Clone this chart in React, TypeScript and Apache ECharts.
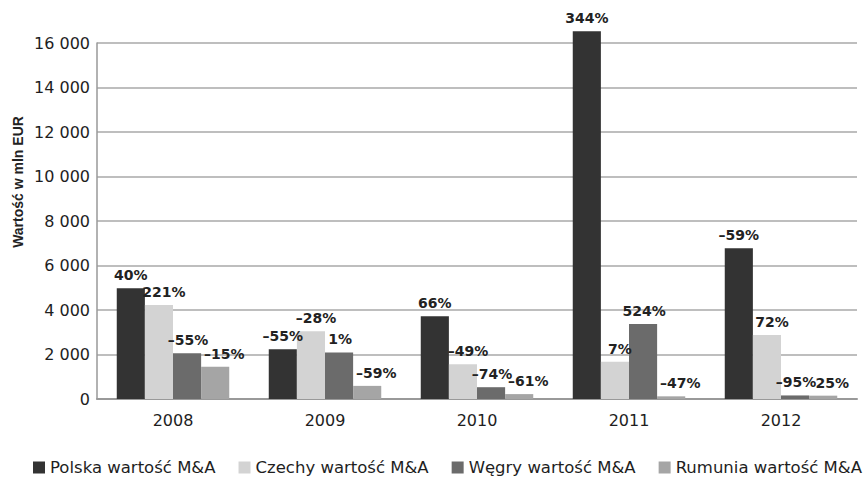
import React, { useEffect, useRef } from "react";
import * as echarts from "echarts";

const categories = ["2008", "2009", "2010", "2011", "2012"];
const seriesNames = [
  "Polska wartość M&A",
  "Czechy wartość M&A",
  "Węgry wartość M&A",
  "Rumunia wartość M&A",
];
const polska = [4980, 2240, 3720, 16530, 6780];
const czechy = [4220, 3050, 1560, 1670, 2880];
const wegry = [2060, 2090, 530, 3370, 160];
const rumunia = [1450, 590, 220, 120, 150];
const polskaChange = [40, -55, 66, 344, -59];
const czechyChange = [221, -28, -49, 7, 72];
const wegryChange = [-55, 1, -74, 524, -95];
const rumuniaChange = [-15, -59, -61, -47, 25];
const yTicks = [0, 2000, 4000, 6000, 8000, 10000, 12000, 14000, 16000];

const colors = ["#333333", "#d3d3d3", "#6b6b6b", "#a5a5a5"];
const labelShift = [0, 5, 1, 9];

const fmtThousands = (v: number) =>
  String(v).replace(/\B(?=(\d{3})+(?!\d))/g, " ");
const fmtPct = (v: number) => (v < 0 ? "\u2013" + Math.abs(v) : String(v)) + "%";

export default function App() {
  const ref = useRef<HTMLDivElement>(null);
  useEffect(() => {
    if (!ref.current) return;
    const chart = echarts.init(ref.current, null, { renderer: "svg" });
    const values = [polska, czechy, wegry, rumunia];
    const changes = [polskaChange, czechyChange, wegryChange, rumuniaChange];
    const font = "'DejaVu Sans', sans-serif";
    chart.setOption({
      animation: false,
      color: colors,
      grid: { left: 97, right: 10, top: 43, bottom: 81, containLabel: false },
      legend: {
        left: 33,
        top: 459,
        width: 860,
        padding: 0,
        itemGap: 23,
        itemWidth: 12,
        itemHeight: 12,
        icon: "rect",
        textStyle: { fontFamily: font, fontSize: 16.5, color: "#1e1e1e" },
        data: seriesNames,
      },
      xAxis: {
        type: "category",
        data: categories,
        axisLine: { lineStyle: { color: "#999", width: 2 } },
        axisTick: { show: false },
        axisLabel: { fontFamily: font, fontSize: 16, color: "#1e1e1e", margin: 13 },
      },
      yAxis: {
        type: "value",
        min: 0,
        max: yTicks[yTicks.length - 1],
        interval: yTicks[1] - yTicks[0],
        axisLine: { show: true, lineStyle: { color: "#999", width: 1.5 } },
        axisTick: { show: false },
        splitLine: { lineStyle: { color: "#a8a8a8", width: 1.5 } },
        axisLabel: {
          fontFamily: font,
          fontSize: 16,
          color: "#1e1e1e",
          margin: 7,
          formatter: (v: number) => fmtThousands(v),
        },
      },
      graphic: [
        {
          type: "text",
          x: 18,
          y: 182,
          rotation: Math.PI / 2,
          style: {
            text: "Wartość w mln EUR",
            fontFamily: "'Liberation Sans', Arial, sans-serif",
            fontWeight: "bold",
            fontSize: 14,
            fill: "#222",
            align: "center",
            verticalAlign: "middle",
          },
        },
      ],
      series: seriesNames.map((name, i) => ({
        name,
        type: "bar",
        data: values[i],
        clip: false,
        barGap: "0%",
        barCategoryGap: "26%",
        itemStyle: { color: colors[i] },
        label: {
          show: true,
          position: "top",
          distance: 6,
          offset: [labelShift[i], 0],
          fontFamily: font,
          fontWeight: "bold",
          fontSize: 14,
          color: "#222",
          formatter: (p: any) => fmtPct(changes[i][p.dataIndex]),
        },
      })),
    });
    return () => chart.dispose();
  }, []);
  return (
    <div
      ref={ref}
      style={{ position: "fixed", left: 0, top: 0, width: 867, height: 480, background: "#fff" }}
    />
  );
}
